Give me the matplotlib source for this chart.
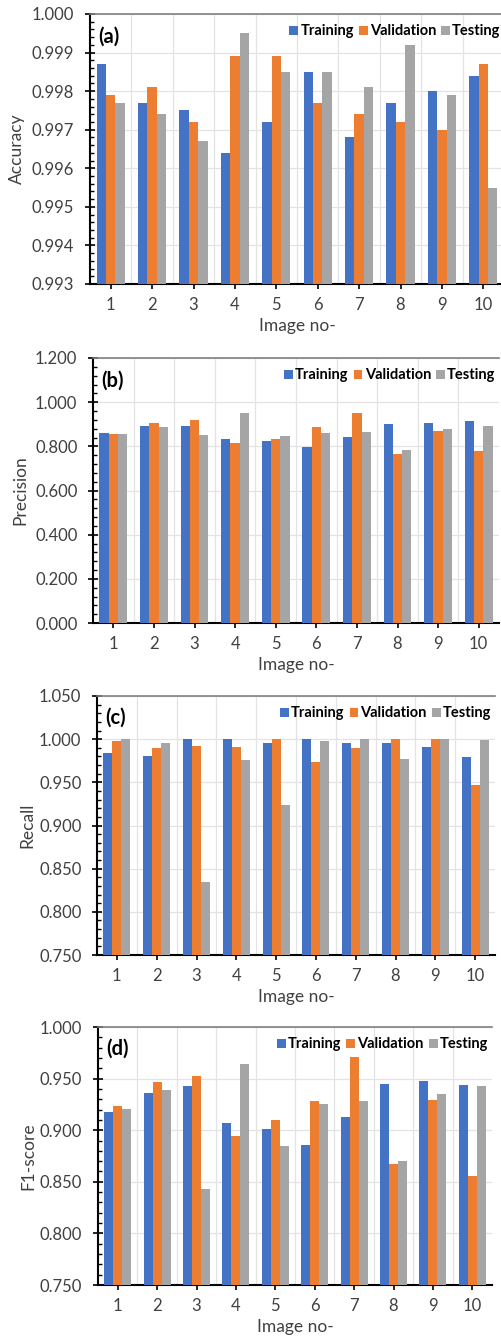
import matplotlib
matplotlib.use('Agg')
import matplotlib.pyplot as plt
import numpy as np
from matplotlib.ticker import AutoMinorLocator, FormatStrFormatter, MultipleLocator

plt.rcParams['font.family'] = ['Lato', 'DejaVu Sans']

images = [1, 2, 3, 4, 5, 6, 7, 8, 9, 10]

acc_train = [0.9987, 0.9977, 0.9975, 0.9964, 0.9972, 0.9985, 0.9968, 0.9977, 0.9980, 0.9984]
acc_val = [0.9979, 0.9981, 0.9972, 0.9989, 0.9989, 0.9977, 0.9974, 0.9972, 0.9970, 0.9987]
acc_test = [0.9977, 0.9974, 0.9967, 0.9995, 0.9985, 0.9985, 0.9981, 0.9992, 0.9979, 0.9955]

prec_train = [0.860, 0.894, 0.890, 0.832, 0.822, 0.796, 0.841, 0.900, 0.906, 0.914]
prec_val = [0.858, 0.906, 0.917, 0.813, 0.835, 0.887, 0.952, 0.764, 0.869, 0.779]
prec_test = [0.855, 0.887, 0.850, 0.952, 0.847, 0.861, 0.867, 0.784, 0.878, 0.893]

rec_train = [0.984, 0.981, 1.000, 1.000, 0.996, 1.000, 0.996, 0.995, 0.991, 0.979]
rec_val = [0.998, 0.990, 0.992, 0.991, 1.000, 0.973, 0.990, 1.000, 1.000, 0.947]
rec_test = [1.000, 0.995, 0.835, 0.976, 0.924, 0.998, 1.000, 0.977, 1.000, 0.999]

f1_train = [0.918, 0.936, 0.943, 0.907, 0.901, 0.886, 0.913, 0.945, 0.948, 0.944]
f1_val = [0.923, 0.947, 0.953, 0.894, 0.910, 0.928, 0.971, 0.867, 0.929, 0.856]
f1_test = [0.921, 0.939, 0.843, 0.964, 0.885, 0.925, 0.928, 0.870, 0.935, 0.943]

colors = ['#4472C4', '#ED7D31', '#A5A5A5']
series_names = ['Training', 'Validation', 'Testing']
text_col = '#404040'

W, H = 501, 1338
fig = plt.figure(figsize=(W / 100, H / 100), dpi=100)

# (left, right, top, bottom) in pixels, ylabel x pixel, ylabel, ylim, step, tag
panels = [
    ((90, 504, 14, 284), 17, 'Accuracy', (0.993, 1.000), 0.001, '(a)',
     (acc_train, acc_val, acc_test)),
    ((93, 499, 358, 623), 20, 'Precision', (0.0, 1.2), 0.2, '(b)',
     (prec_train, prec_val, prec_test)),
    ((97, 495, 696, 955), 27, 'Recall', (0.75, 1.05), 0.05, '(c)',
     (rec_train, rec_val, rec_test)),
    ((98, 492, 1027, 1285), 28, 'F1-score', (0.75, 1.0), 0.05, '(d)',
     (f1_train, f1_val, f1_test)),
]

x = np.arange(len(images))
bw = 0.227

for (l, r, t, b), ylx, ylab, ylim, step, tag, data in panels:
    ax = fig.add_axes([l / W, 1 - b / H, (r - l) / W, (b - t) / H])
    for k, vals in enumerate(data):
        ax.bar(x + (k - 1) * bw, vals, bw, color=colors[k], label=series_names[k],
               zorder=3)
    ax.set_xlim(-0.5, len(images) - 0.5)
    ax.set_ylim(*ylim)
    ax.yaxis.set_major_locator(MultipleLocator(step))
    ax.yaxis.set_minor_locator(AutoMinorLocator(5))
    ax.yaxis.set_major_formatter(FormatStrFormatter('%.3f'))
    ax.set_xticks(x)
    ax.set_xticklabels([str(i) for i in images])
    ax.set_xticks(x[:-1] + 0.5, minor=True)
    ax.grid(axis='y', which='major', color='#E3E3E3', lw=0.9, zorder=0)
    ax.grid(axis='x', which='minor', color='#E3E3E3', lw=0.9, zorder=0)
    ax.tick_params(axis='y', which='major', direction='inout', length=6.5, width=1.2,
                   labelsize=12, labelcolor=text_col, color='black', pad=8)
    ax.tick_params(axis='y', which='minor', direction='in', length=3, width=1.0,
                   color='black')
    ax.tick_params(axis='x', which='major', direction='inout', length=6.5, width=1.2,
                   labelsize=12, labelcolor=text_col, color='black', pad=6)
    ax.tick_params(axis='x', which='minor', length=0)
    ax.spines['left'].set_linewidth(1.5)
    ax.spines['bottom'].set_linewidth(1.5)
    ax.spines['top'].set_color('#808080')
    ax.spines['top'].set_linewidth(1.2)
    ax.spines['right'].set_visible(False)
    ax.set_ylabel(ylab, fontsize=12.5, color=text_col)
    ax.yaxis.set_label_coords((ylx + 8 - l) / (r - l), 0.5)
    ax.set_xlabel('Image no-', fontsize=12.5, color=text_col, labelpad=4)
    ax.text(0.02, 0.915, tag, transform=ax.transAxes, fontsize=14.5,
            fontweight='bold', va='center', ha='left', color='black')
    ax.legend(loc='upper right', bbox_to_anchor=(1.02, 1.005), ncol=3, frameon=False,
              handlelength=0.6, handleheight=0.6, handletextpad=0.15,
              columnspacing=0.35, borderaxespad=0.4,
              prop={'weight': 'bold', 'size': 10.5})

fig.savefig('out.png', dpi=100)
